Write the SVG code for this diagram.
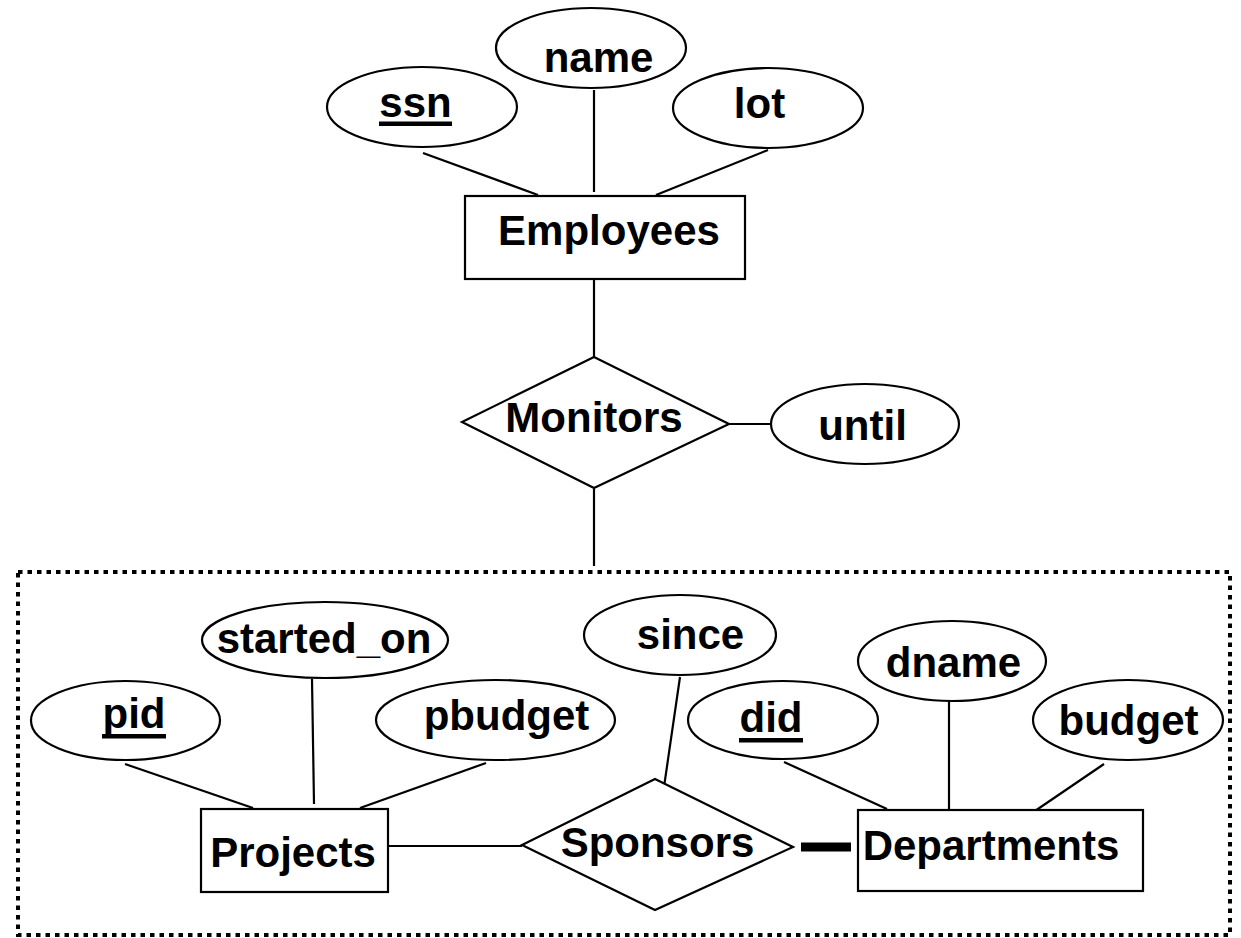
<svg xmlns="http://www.w3.org/2000/svg" width="1241" height="938" viewBox="0 0 1241 938">
<style>
.s{fill:#fff;stroke:#000;stroke-width:2.2}
.c{stroke:#000;stroke-width:2.2;fill:none}
.t{font-family:"Liberation Sans",Arial,sans-serif;font-weight:bold;font-size:42px;fill:#000;text-anchor:middle}
.u{fill:#000}
</style>
<rect width="1241" height="938" fill="#fff"/>
<g id="aggregate">
<rect x="18" y="572" width="1212" height="363" fill="none" stroke="#000" stroke-width="4" stroke-dasharray="4.5 5"/>
</g>
<g id="connectors">
<line class="c" x1="423" y1="153" x2="538" y2="195"/>
<line class="c" x1="594" y1="90" x2="594" y2="192"/>
<line class="c" x1="768" y1="150" x2="656" y2="195"/>
<line class="c" x1="594" y1="279" x2="594" y2="357"/>
<line class="c" x1="729" y1="424" x2="772" y2="424"/>
<line class="c" x1="594" y1="489" x2="594" y2="566"/>
<line class="c" x1="125" y1="764" x2="253" y2="808"/>
<line class="c" x1="312" y1="679" x2="314" y2="804"/>
<line class="c" x1="486" y1="763" x2="360" y2="808"/>
<line class="c" x1="386" y1="846" x2="522" y2="846"/>
<line class="c" x1="680" y1="677" x2="664" y2="787"/>
<line class="c" x1="784" y1="762" x2="887" y2="809"/>
<line class="c" x1="949" y1="701" x2="949" y2="812"/>
<line class="c" x1="1104" y1="764" x2="1032" y2="813"/>
<rect x="801" y="842.5" width="50" height="9" fill="#000"/>
</g>
<g id="ssn"><ellipse class="s" cx="422" cy="107" rx="95" ry="40"/><text class="t" x="415.5" y="117">ssn</text><rect class="u" x="379" y="121.5" width="73" height="4.5"/></g>
<g id="name"><ellipse class="s" cx="591" cy="48" rx="95" ry="40"/><text class="t" x="598.5" y="72">name</text></g>
<g id="lot"><ellipse class="s" cx="768" cy="108" rx="95" ry="40"/><text class="t" x="759.5" y="118">lot</text></g>
<g id="employees"><rect class="s" x="465" y="196" width="280" height="83"/><text class="t" x="609" y="245">Employees</text></g>
<g id="monitors"><polygon class="s" points="594,357 729,424 594,488 462,422"/><text class="t" x="594" y="432">Monitors</text></g>
<g id="until"><ellipse class="s" cx="865" cy="424" rx="94" ry="40"/><text class="t" x="862.5" y="440">until</text></g>
<g id="started_on"><ellipse class="s" cx="325" cy="640" rx="123" ry="38"/><text class="t" x="324" y="653">started_on</text></g>
<g id="pid"><ellipse class="s" cx="125.5" cy="720.5" rx="94.5" ry="39.5"/><text class="t" x="134" y="728">pid</text><rect class="u" x="102" y="734" width="64" height="4.5"/></g>
<g id="pbudget"><ellipse class="s" cx="495.5" cy="720" rx="119.5" ry="40"/><text class="t" x="506.5" y="730">pbudget</text></g>
<g id="since"><ellipse class="s" cx="680" cy="635" rx="96" ry="40"/><text class="t" x="690.5" y="649">since</text></g>
<g id="projects"><rect class="s" x="201" y="809" width="187" height="83"/><text class="t" x="293" y="867">Projects</text></g>
<g id="sponsors"><polygon class="s" points="655,779 793,847 655,910 522,845"/><text class="t" x="657.5" y="857">Sponsors</text></g>
<g id="did"><ellipse class="s" cx="783" cy="720" rx="95" ry="39"/><text class="t" x="771" y="732">did</text><rect class="u" x="739" y="738" width="64" height="4.5"/></g>
<g id="dname"><ellipse class="s" cx="952" cy="661" rx="94" ry="40"/><text class="t" x="953.5" y="677">dname</text></g>
<g id="budget"><ellipse class="s" cx="1128" cy="720" rx="95" ry="40"/><text class="t" x="1128.5" y="735">budget</text></g>
<g id="departments"><rect class="s" x="858" y="810" width="285" height="81"/><text class="t" x="991" y="860">Departments</text></g>
</svg>
